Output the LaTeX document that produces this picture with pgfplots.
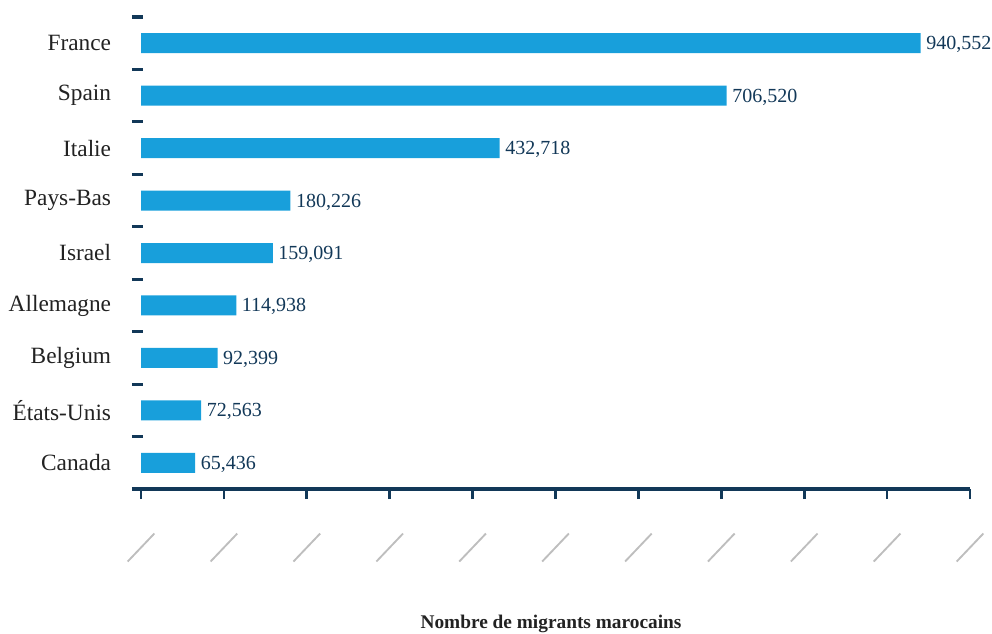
\documentclass[border=0pt]{standalone}
\usepackage{pgfplots}
\pgfplotsset{compat=1.18}
\usepackage{fontspec}
\setmainfont{Liberation Serif}
\definecolor{barblue}{RGB}{24,159,219}
\definecolor{navy}{RGB}{18,56,88}
\definecolor{labgray}{RGB}{34,34,34}
\definecolor{slashgray}{RGB}{190,190,190}
\begin{document}
\begin{tikzpicture}
\begin{axis}[
  at={(99pt,108pt)}, anchor=south west,
  scale only axis, width=628.5pt, height=354pt,
  xbar, bar width=15pt,
  xmin=-10860, xmax=1000000,
  ymin=-0.5, ymax=8.5,
  clip=false,
  axis x line*=bottom, axis y line*=left,
  axis line style={-},
  x axis line style={line width=2.5pt, navy},
  y axis line style={draw=none},
  xtick={0,100000,...,1000000},
  scaled x ticks=false,
  xtick align=outside,
  x tick style={line width=2pt, navy},
  major tick length=7.5pt,
  xticklabel={\tikz\draw[slashgray, line width=1.4pt] (0,0)--(20pt,21pt);},
  xticklabel style={anchor=north, inner sep=0pt, yshift=-25pt},
  ytick={0,...,8},
  yticklabels={Canada,États-Unis,Belgium,Allemagne,Israel,Pays-Bas,Italie,Spain,France},
  y tick style={draw=none},
  yticklabel style={anchor=east, inner sep=0pt, xshift=-8pt, font=\fontsize{17.5}{20}\selectfont, color=labgray},
  extra y ticks={0.5,1.5,...,8.5},
  extra y tick labels={},
  extra y tick style={ytick align=inside, major tick length=8pt, y tick style={draw=navy, line width=2.4pt}},
  xlabel={\textbf{Nombre de migrants marocains}},
  xlabel style={at={(axis description cs:0.5,0)}, anchor=north, inner sep=0pt, yshift=-94pt, font=\fontsize{14.5}{17}\selectfont, color=labgray},
  point meta=x,
  nodes near coords,
  /pgf/number format/.cd, fixed, precision=0, 1000 sep={,}, assume math mode=true,
  /pgfplots/.cd,
  every node near coord/.append style={font=\fontsize{15}{18}\selectfont, color=navy, inner sep=0pt, anchor=west, xshift=4pt, yshift=-1pt},
]
\addplot[fill=barblue, draw=none] coordinates {
(65436,0) (72563,1) (92399,2) (114938,3) (159091,4) (180226,5) (432718,6) (706520,7) (940552,8)
};
\end{axis}
\pgfresetboundingbox
\path (0,0) rectangle (744pt,474.75pt);
\end{tikzpicture}
\end{document}
